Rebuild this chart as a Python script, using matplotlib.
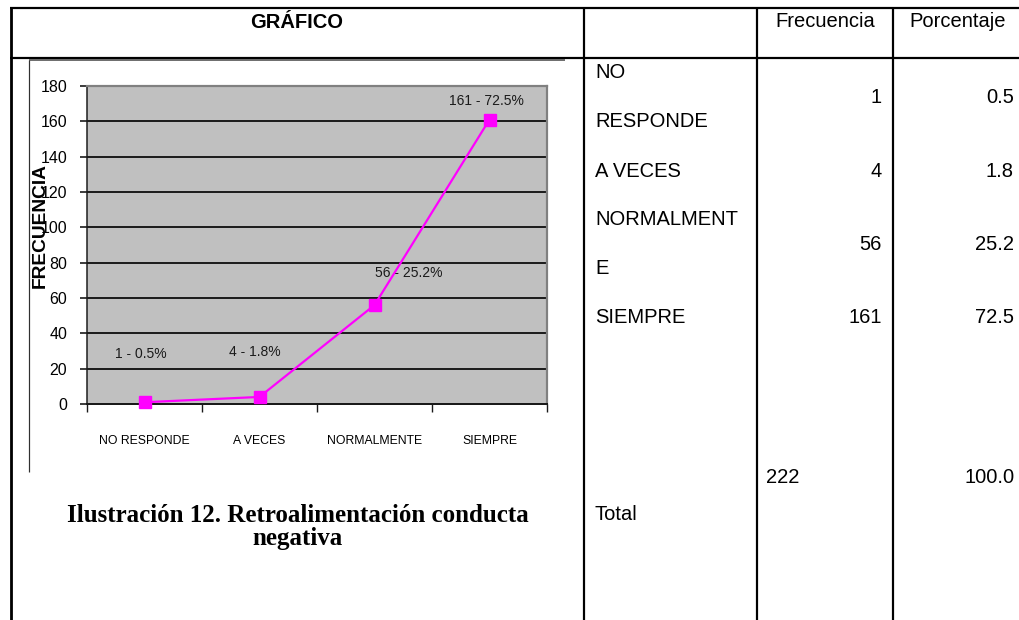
import textwrap
import matplotlib
matplotlib.use("Agg")
import matplotlib.pyplot as plt
from matplotlib import font_manager as fm

# ---------------- data ----------------
categories = ["NO RESPONDE", "A VECES", "NORMALMENTE", "SIEMPRE"]
frecuencia = [1, 4, 56, 161]
porcentaje = [0.5, 1.8, 25.2, 72.5]
total_frecuencia = 222
total_porcentaje = 100.0
y_ticks = list(range(0, 181, 20))
header_labels = ["GRÁFICO", "Frecuencia", "Porcentaje"]
y_axis_label = "FRECUENCIA"
total_label = "Total"
caption = "Ilustración 12. Retroalimentación conducta negativa"

# ---------------- setup ----------------
W, H = 1019, 620
DPI = 100
PT = 72.0 / DPI  # points per pixel


def narrow_font():
    for fam in ["Liberation Sans Narrow", "Arial Narrow"]:
        try:
            p = fm.findfont(fm.FontProperties(family=fam), fallback_to_default=False)
            if "arrow" in p:
                return fam, 0.82
        except Exception:
            pass
    return "Liberation Sans", 1.0


NARROW, NSCALE = narrow_font()
SANS = "Liberation Sans"
SERIF = "Liberation Serif"

fig = plt.figure(figsize=(W / DPI, H / DPI), dpi=DPI)
fig.patch.set_facecolor("white")

# background overlay axes in pixel coordinates (table)
bg = fig.add_axes([0, 0, 1, 1], zorder=0)
bg.set_xlim(0, W)
bg.set_ylim(H, 0)
bg.axis("off")

line_kw = dict(color="black", solid_capstyle="butt")
# outer/top lines
bg.plot([10, W], [7.5, 7.5], lw=2.2 * PT, **line_kw)
bg.plot([10, W], [57.5, 57.5], lw=2.2 * PT, **line_kw)
# vertical lines
bg.plot([11, 11], [6.5, H], lw=2.8 * PT, **line_kw)
for xv in [584, 757, 893]:
    bg.plot([xv, xv], [6.5, H], lw=2.2 * PT, **line_kw)

# chart picture frame
bg.plot([29, 565], [60, 60], color="#606060", lw=1.8 * PT, solid_capstyle="butt")
bg.plot([29, 29], [60, 472], color="#303030", lw=1.2 * PT, solid_capstyle="butt")

TS = 14.5  # table font size
# header
bg.text(297, 28, header_labels[0], ha="center", va="baseline", fontsize=TS,
        fontweight="bold", family=SANS)
bg.text(825, 27, header_labels[1], ha="center", va="baseline", fontsize=TS, family=SANS)
bg.text(958, 27, header_labels[2], ha="center", va="baseline", fontsize=TS, family=SANS)

# table body
row_baselines = [103, 177, 250, 323]
for cat, f, p, yb in zip(categories, frecuencia, porcentaje, row_baselines):
    lines = textwrap.wrap(cat, 10, break_long_words=True)
    if len(lines) == 1:
        bg.text(595, yb, lines[0], ha="left", va="baseline", fontsize=TS, family=SANS)
    else:
        bg.text(595, yb - 25, lines[0], ha="left", va="baseline", fontsize=TS, family=SANS)
        bg.text(595, yb + 24, lines[1], ha="left", va="baseline", fontsize=TS, family=SANS)
    bg.text(882, yb, f"{f}", ha="right", va="baseline", fontsize=TS, family=SANS)
    bg.text(1014, yb, f"{p:.1f}", ha="right", va="baseline", fontsize=TS, family=SANS)

bg.text(766, 483, f"{total_frecuencia}", ha="left", va="baseline", fontsize=TS, family=SANS)
bg.text(1015, 483, f"{total_porcentaje:.1f}", ha="right", va="baseline", fontsize=TS, family=SANS)
bg.text(595, 520, total_label, ha="left", va="baseline", fontsize=TS, family=SANS)

# caption
cap1, cap2 = caption.rsplit(" ", 1)
bg.text(298, 522, cap1, ha="center", va="baseline", fontsize=18, fontweight="bold", family=SERIF)
bg.text(298, 545, cap2, ha="center", va="baseline", fontsize=18, fontweight="bold", family=SERIF)

# ---------------- chart ----------------
L, R, T, B = 87, 547, 86, 404
ax = fig.add_axes([L / W, 1 - B / H, (R - L) / W, (B - T) / H], zorder=2)
ax.set_facecolor("#C0C0C0")
x = list(range(len(categories)))
ax.set_xlim(-0.5, len(categories) - 0.5)
ax.set_ylim(0, 180)

ax.set_yticks(y_ticks)
ax.set_yticklabels([str(v) for v in y_ticks], family=NARROW,
                   fontsize=11.5 / NSCALE if NSCALE < 1 else 11.5)
ax.yaxis.grid(True, color="#1a1a1a", lw=1.4)
ax.set_axisbelow(True)

ax.set_xticks(x)
ax.set_xticklabels(categories, family=NARROW, fontsize=8.8 / NSCALE)
ax.set_xticks([i - 0.5 for i in range(len(categories) + 1)], minor=True)
ax.tick_params(axis="x", which="major", length=0, pad=31 * PT)
ax.tick_params(axis="x", which="minor", length=8 * PT, width=1, direction="out", color="#1a1a1a")
ax.tick_params(axis="y", which="major", length=7 * PT, width=1.2, direction="out",
               pad=13 * PT, color="#1a1a1a")

for s in ["top", "right"]:
    ax.spines[s].set_color("#808080")
    ax.spines[s].set_linewidth(2.2 * PT)
ax.spines["left"].set_color("#1a1a1a")
ax.spines["left"].set_linewidth(1.5 * PT)
ax.spines["bottom"].set_color("#1a1a1a")
ax.spines["bottom"].set_linewidth(2 * PT)

ax.plot(x, frecuencia, color="#FF00FF", lw=2.2 * PT, marker="s", markersize=12 * PT,
        markerfacecolor="#FF00FF", markeredgecolor="#FF00FF", zorder=5, clip_on=False)

label_offsets = [(-4, 48), (-5, 45), (34, 32), (-3, 19)]
for xi, f, p, (dx, dy) in zip(x, frecuencia, porcentaje, label_offsets):
    ax.annotate(f"{f} - {p}%", (xi, f), xytext=(dx * PT, dy * PT), textcoords="offset points",
                ha="center", va="center", fontsize=10 / NSCALE, family=NARROW,
                color="#1a1a1a", zorder=3)

fig.text(40 / W, 1 - 226 / H, y_axis_label, rotation=90, ha="center", va="center",
         fontsize=13.8, fontweight="bold", family=SANS, zorder=1)

fig.savefig("out.png", dpi=DPI, facecolor="white")
